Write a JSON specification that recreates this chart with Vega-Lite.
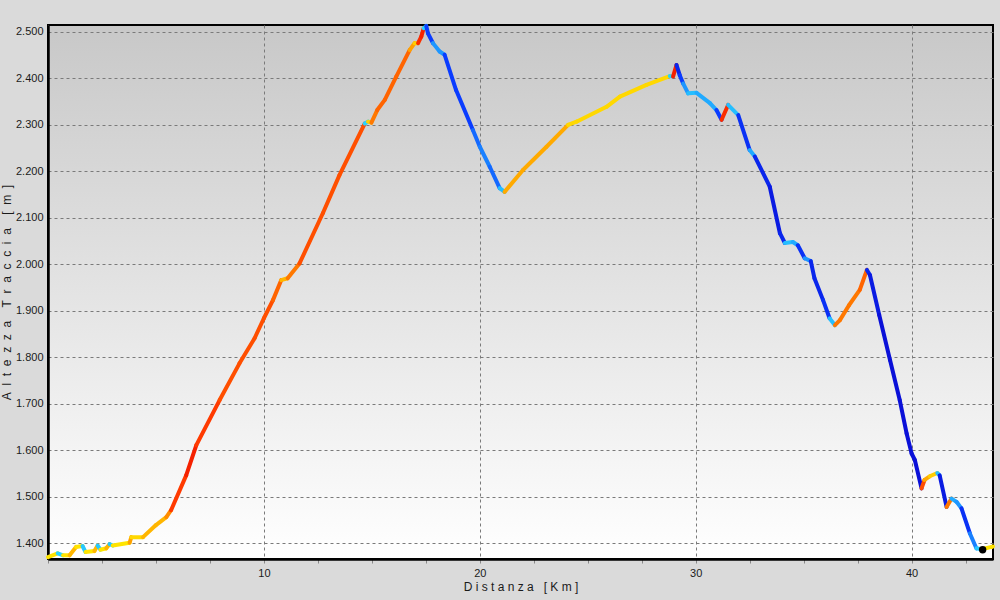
{
  "$schema": "https://vega.github.io/schema/vega-lite/v6.json",
  "width": 945,
  "height": 534,
  "autosize": {"type": "none"},
  "padding": {"left": 48, "top": 25, "right": 7, "bottom": 41},
  "background": "#dadada",
  "config": {
    "view": {
      "fill": {"gradient": "linear", "x1": 0, "y1": 0, "x2": 0, "y2": 1, "stops": [{"offset": 0, "color": "#c8c8c8"}, {"offset": 1, "color": "#ffffff"}]},
      "stroke": "#000000",
      "strokeWidth": 2
    },
    "axis": {
      "labelFont": "Liberation Sans",
      "labelFontSize": 11,
      "labelColor": "#1a1a1a",
      "titleFont": "Liberation Sans",
      "titleFontSize": 12,
      "titleFontWeight": "normal",
      "titleColor": "#1a1a1a",
      "domainColor": "#000000",
      "domainWidth": 2.5,
      "gridColor": "#7a7a7a",
      "gridDash": [3, 3],
      "gridWidth": 1
    }
  },
  "datasets": {
    "profilo": [
      {"km": 0.0, "m": 1370, "pendenza": 1},
      {"km": 0.45, "m": 1378, "pendenza": -1},
      {"km": 0.7, "m": 1374, "pendenza": 1},
      {"km": 1.0, "m": 1374, "pendenza": 3},
      {"km": 1.3, "m": 1392, "pendenza": 1},
      {"km": 1.6, "m": 1394, "pendenza": -1.5},
      {"km": 1.74, "m": 1381, "pendenza": 1},
      {"km": 2.15, "m": 1383, "pendenza": 3},
      {"km": 2.3, "m": 1395, "pendenza": -1.5},
      {"km": 2.43, "m": 1386, "pendenza": 1},
      {"km": 2.7, "m": 1389, "pendenza": 3},
      {"km": 2.85, "m": 1398, "pendenza": -1.5},
      {"km": 3.0, "m": 1395, "pendenza": 1},
      {"km": 3.78, "m": 1401, "pendenza": 4},
      {"km": 3.86, "m": 1413, "pendenza": 1.5},
      {"km": 4.4, "m": 1413, "pendenza": 3},
      {"km": 5.0, "m": 1439, "pendenza": 3},
      {"km": 5.48, "m": 1456, "pendenza": 5},
      {"km": 5.7, "m": 1471, "pendenza": 9},
      {"km": 6.4, "m": 1546, "pendenza": 11},
      {"km": 6.87, "m": 1611, "pendenza": 9},
      {"km": 7.95, "m": 1708, "pendenza": 8},
      {"km": 8.87, "m": 1787, "pendenza": 8},
      {"km": 9.57, "m": 1841, "pendenza": 8},
      {"km": 10.0, "m": 1884, "pendenza": 8},
      {"km": 10.42, "m": 1923, "pendenza": 7},
      {"km": 10.8, "m": 1966, "pendenza": 3},
      {"km": 11.1, "m": 1970, "pendenza": 6},
      {"km": 11.65, "m": 2002, "pendenza": 8},
      {"km": 12.73, "m": 2110, "pendenza": 8},
      {"km": 13.5, "m": 2192, "pendenza": 8},
      {"km": 14.67, "m": 2303, "pendenza": -1},
      {"km": 14.82, "m": 2307, "pendenza": 2},
      {"km": 14.98, "m": 2305, "pendenza": 6},
      {"km": 15.25, "m": 2332, "pendenza": 7},
      {"km": 15.6, "m": 2354, "pendenza": 7},
      {"km": 16.13, "m": 2404, "pendenza": 7},
      {"km": 16.75, "m": 2461, "pendenza": 4},
      {"km": 16.98, "m": 2476, "pendenza": 2},
      {"km": 17.14, "m": 2476, "pendenza": 10},
      {"km": 17.29, "m": 2490, "pendenza": 11},
      {"km": 17.4, "m": 2508, "pendenza": -1},
      {"km": 17.52, "m": 2513, "pendenza": -8},
      {"km": 17.6, "m": 2497, "pendenza": -8},
      {"km": 17.83, "m": 2476, "pendenza": -4},
      {"km": 18.14, "m": 2458, "pendenza": -4},
      {"km": 18.37, "m": 2451, "pendenza": -8},
      {"km": 18.9, "m": 2375, "pendenza": -8},
      {"km": 19.68, "m": 2289, "pendenza": -6},
      {"km": 20.0, "m": 2253, "pendenza": -5},
      {"km": 20.46, "m": 2210, "pendenza": -6},
      {"km": 20.92, "m": 2164, "pendenza": -2},
      {"km": 21.15, "m": 2156, "pendenza": 3.5},
      {"km": 22.0, "m": 2203, "pendenza": 3.5},
      {"km": 23.09, "m": 2253, "pendenza": 3.5},
      {"km": 24.09, "m": 2300, "pendenza": 1.5},
      {"km": 24.48, "m": 2307, "pendenza": 1.5},
      {"km": 25.87, "m": 2339, "pendenza": 1.5},
      {"km": 26.49, "m": 2361, "pendenza": 1.5},
      {"km": 27.72, "m": 2386, "pendenza": 1.5},
      {"km": 28.8, "m": 2405, "pendenza": -1},
      {"km": 28.95, "m": 2404, "pendenza": 11},
      {"km": 29.11, "m": 2429, "pendenza": -10},
      {"km": 29.26, "m": 2407, "pendenza": -8},
      {"km": 29.42, "m": 2389, "pendenza": -4},
      {"km": 29.65, "m": 2368, "pendenza": -2},
      {"km": 30.04, "m": 2369, "pendenza": -3},
      {"km": 30.66, "m": 2347, "pendenza": -3},
      {"km": 30.96, "m": 2332, "pendenza": -8},
      {"km": 31.2, "m": 2311, "pendenza": 10},
      {"km": 31.5, "m": 2343, "pendenza": -2},
      {"km": 31.97, "m": 2321, "pendenza": -9},
      {"km": 32.5, "m": 2246, "pendenza": -3},
      {"km": 32.74, "m": 2232, "pendenza": -10},
      {"km": 33.43, "m": 2167, "pendenza": -11},
      {"km": 33.9, "m": 2067, "pendenza": -10},
      {"km": 34.13, "m": 2046, "pendenza": -2},
      {"km": 34.5, "m": 2048, "pendenza": -3},
      {"km": 34.73, "m": 2041, "pendenza": -9},
      {"km": 35.05, "m": 2013, "pendenza": -4},
      {"km": 35.33, "m": 2007, "pendenza": -10},
      {"km": 35.5, "m": 1970, "pendenza": -10},
      {"km": 35.9, "m": 1923, "pendenza": -9},
      {"km": 36.2, "m": 1884, "pendenza": -2},
      {"km": 36.45, "m": 1869, "pendenza": 6},
      {"km": 36.68, "m": 1880, "pendenza": 6},
      {"km": 37.1, "m": 1912, "pendenza": 6},
      {"km": 37.6, "m": 1945, "pendenza": 7},
      {"km": 37.93, "m": 1988, "pendenza": -10},
      {"km": 38.07, "m": 1977, "pendenza": -11},
      {"km": 38.5, "m": 1891, "pendenza": -12},
      {"km": 39.0, "m": 1794, "pendenza": -12},
      {"km": 39.45, "m": 1708, "pendenza": -12},
      {"km": 39.77, "m": 1636, "pendenza": -12},
      {"km": 40.0, "m": 1593, "pendenza": -12},
      {"km": 40.15, "m": 1579, "pendenza": -12},
      {"km": 40.46, "m": 1518, "pendenza": 8},
      {"km": 40.6, "m": 1536, "pendenza": 3.5},
      {"km": 40.84, "m": 1544, "pendenza": 2},
      {"km": 41.19, "m": 1551, "pendenza": -2},
      {"km": 41.3, "m": 1546, "pendenza": -11},
      {"km": 41.62, "m": 1478, "pendenza": 6},
      {"km": 41.85, "m": 1496, "pendenza": -3},
      {"km": 42.08, "m": 1489, "pendenza": -4},
      {"km": 42.31, "m": 1475, "pendenza": -9},
      {"km": 42.7, "m": 1421, "pendenza": -5},
      {"km": 43.0, "m": 1389, "pendenza": -1.5},
      {"km": 43.24, "m": 1387, "pendenza": 1},
      {"km": 43.71, "m": 1392, "pendenza": 1},
      {"km": 43.77, "m": 1393, "pendenza": 1}
    ],
    "posizione": [
      {"km": 43.29, "m": 1386}
    ]
  },
  "layer": [
    {
      "data": {"name": "profilo"},
      "transform": [
        {"window": [{"op": "lead", "field": "km", "as": "km2"}, {"op": "lead", "field": "m", "as": "m2"}], "sort": [{"field": "km"}]},
        {"filter": "datum.km2 != null"}
      ],
      "mark": {"type": "rule", "strokeWidth": 4, "strokeCap": "round"},
      "encoding": {
        "x": {
          "field": "km", "type": "quantitative",
          "scale": {"domain": [0, 43.77], "nice": false, "zero": false},
          "axis": {
            "title": "D i s t a n z a \u00a0\u00a0[ K m ]",
            "values": [0, 2.5, 5, 7.5, 10, 12.5, 15, 17.5, 20, 22.5, 25, 27.5, 30, 32.5, 35, 37.5, 40, 42.5],
            "labelExpr": "datum.value % 10 === 0 && datum.value > 0 ? datum.label : ''",
            "tickSize": 4,
            "tickColor": "#888888",
            "labelPadding": 4,
            "titlePadding": 3,
            "gridOpacity": {"condition": {"test": "datum.value % 10 === 0", "value": 1}, "value": 0}
          }
        },
        "x2": {"field": "km2"},
        "y": {
          "field": "m", "type": "quantitative",
          "scale": {"domain": [1366, 2515], "nice": false, "zero": false},
          "axis": {
            "title": "A\u00a0\u00a0l\u00a0\u00a0t\u00a0\u00a0e\u00a0\u00a0z\u00a0\u00a0z\u00a0\u00a0a\u00a0\u00a0\u00a0\u00a0T\u00a0\u00a0r\u00a0\u00a0a\u00a0\u00a0c\u00a0\u00a0c\u00a0\u00a0i\u00a0\u00a0a\u00a0\u00a0\u00a0\u00a0[\u00a0\u00a0m\u00a0\u00a0]",
            "values": [1400, 1450, 1500, 1550, 1600, 1650, 1700, 1750, 1800, 1850, 1900, 1950, 2000, 2050, 2100, 2150, 2200, 2250, 2300, 2350, 2400, 2450, 2500],
            "labelExpr": "replace(format(datum.value, ','), ',', '.')",
            "ticks": false,
            "labelPadding": 5,
            "titlePadding": 2
          }
        },
        "y2": {"field": "m2"},
        "color": {
          "field": "pendenza", "type": "quantitative",
          "scale": {
            "domain": [-12, -8, -4, -1, 1, 3.5, 7, 9, 12],
            "range": ["#0a10d8", "#0a3cff", "#1e96ff", "#28d2ff", "#ffe400", "#ffaa00", "#ff6400", "#ff3a00", "#f01400"],
            "interpolate": "rgb"
          },
          "legend": null
        }
      }
    },
    {
      "data": {"name": "posizione"},
      "mark": {"type": "point", "filled": true, "color": "#000000", "size": 55, "opacity": 1},
      "encoding": {
        "x": {"field": "km", "type": "quantitative"},
        "y": {"field": "m", "type": "quantitative"}
      }
    }
  ]
}
